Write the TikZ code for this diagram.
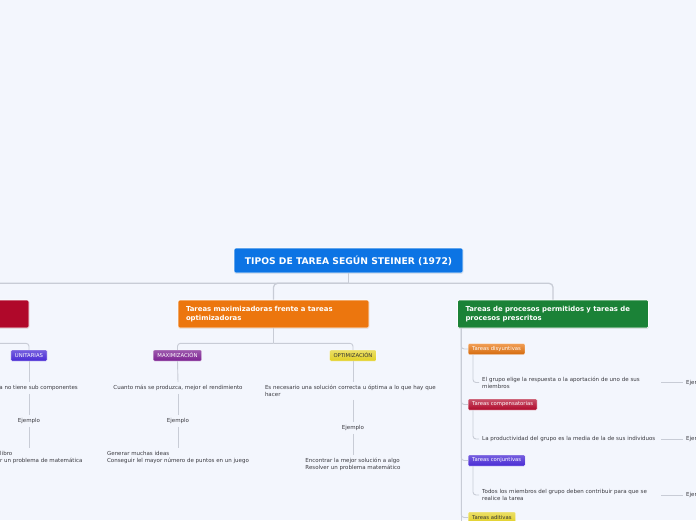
\documentclass[tikz,border=0pt]{standalone}
\usepackage{fontspec}
\setmainfont{DejaVu Sans}
\usetikzlibrary{positioning,shadows}
\hyphenpenalty=10000
\exhyphenpenalty=10000

\begin{document}
\begin{tikzpicture}[x=1pt, y=-1pt,
  every node/.style={font=\fontsize{5.5}{7}\selectfont, text=textcol},
  roottopic/.style={fill=rootcol, draw=white, line width=0.6pt, rounded corners=1.5pt, text=white,
    font=\bfseries\fontsize{9.2}{11}\selectfont, minimum width=229pt, minimum height=25pt,
    drop shadow={opacity=0.2, shadow xshift=0.4pt, shadow yshift=-0.8pt}},
  topic/.style={draw=white, line width=0.6pt, rounded corners=1.5pt, text=white,
    font=\bfseries\fontsize{6.9}{9}\selectfont, minimum width=191pt, minimum height=28pt,
    text width=175pt, align=left, inner xsep=8pt,
    drop shadow={opacity=0.2, shadow xshift=0.4pt, shadow yshift=-0.8pt}},
  tag/.style={rounded corners=1pt, text=white, font=\fontsize{5.3}{6}\selectfont,
    minimum height=11pt, inner xsep=4pt, inner ysep=0pt, draw=white, line width=0.3pt},
  desc/.style={align=left, inner sep=3pt},
  trunk/.style={draw=linecol, line width=1.3pt, rounded corners=4pt},
  twig/.style={draw=linecol, line width=0.9pt, rounded corners=3pt}]
  % Define colors
  \definecolor{bgcol}{RGB}{243,246,253}
  \definecolor{textcol}{RGB}{58,58,64}
  \definecolor{linecol}{RGB}{200,204,214}
  \definecolor{rootcol}{RGB}{12,116,228}
  \definecolor{orangecol}{RGB}{236,118,14}
  \definecolor{greencol}{RGB}{27,130,55}
  \definecolor{redcol}{RGB}{176,8,42}
  \definecolor{violetcol}{RGB}{72,42,212}
  \definecolor{purplecol}{RGB}{124,34,146}
  \definecolor{yellowcol}{RGB}{226,208,36}

  % Canvas
  \fill[bgcol] (0,0) rectangle (696,520);
  \useasboundingbox (0,0) rectangle (696,520);
  \clip (0,0) rectangle (696,520);

  % Root and main topics
  \node[roottopic] (root) at (348.5,260.5) {TIPOS DE TAREA SEGÚN STEINER (1972)};
  \node[topic, fill=redcol] (unitopic) at (-66.5,314) {};
  \node[topic, fill=orangecol] (maxopt) at (273.5,314) {Tareas maximizadoras frente a tareas\\optimizadoras};
  \node[topic, fill=greencol] (procesos) at (553,314) {Tareas de procesos permitidos y tareas de\\procesos prescritos};

  % Left branch
  \node[tag, top color=violetcol!75!white, bottom color=violetcol] (unit) at (29,355.5) {UNITARIAS};
  \node[desc, anchor=east] (unitdesc) at (81,388) {a no tiene sub componentes};
  \node[desc] (unitej) at (29,421) {Ejemplo};
  \node[desc, anchor=west] (unitex) at (-3,457.5) {libro\\r un problema de matemática};

  % Maximizacion / optimizacion
  \node[tag, top color=purplecol!75!white, bottom color=purplecol] (maxi) at (177.5,355.5) {MAXIMIZACIÓN};
  \node[desc] (maxidesc) at (178,388) {Cuanto más se produzca, mejor el rendimiento};
  \node[desc] (maxiej) at (178,421) {Ejemplo};
  \node[desc] (maxiex) at (178,457.5) {Generar muchas ideas\\Conseguir lel mayor número de puntos en un juego};

  \node[tag, top color=yellowcol!70!white, bottom color=yellowcol, text=black!80] (opti) at (353,355.5) {OPTIMIZACIÓN};
  \node[desc, text width=174pt] (optidesc) at (352,391) {Es necesario una solución correcta u óptima a lo que hay que hacer};
  \node[desc] (optiej) at (353,428) {Ejemplo};
  \node[desc] (optiex) at (353,464) {Encontrar la mejor solución a algo\\Resolver un problema matemático};

  % Procesos branch
  \node[tag, anchor=west, top color=orangecol!70!white, bottom color=orangecol!90!black] (disy) at (468,349) {Tareas disyuntivas};
  \node[desc, anchor=west, text width=176pt] (disydesc) at (479,382.5) {El grupo elige la respuesta o la aportación de uno de sus miembros};
  \node[desc, anchor=west] (disyej) at (683,382.5) {Ejemplo};

  \node[tag, anchor=west, top color=redcol!70!white, bottom color=redcol] (comp) at (468,404.5) {Tareas compensatorias};
  \node[desc, anchor=west, text width=176pt] (compdesc) at (479,439) {La productividad del grupo es la media de la de sus individuos};
  \node[desc, anchor=west] (compej) at (683,439) {Ejemplo};

  \node[tag, anchor=west, top color=violetcol!75!white, bottom color=violetcol] (conj) at (468,460.5) {Tareas conjuntivas};
  \node[desc, anchor=west, text width=176pt] (conjdesc) at (479,495) {Todos los miembros del grupo deben contribuir para que se realice la tarea};
  \node[desc, anchor=west] (conjej) at (683,495) {Ejemplo};

  \node[tag, anchor=west, top color=yellowcol!70!white, bottom color=yellowcol, text=black!80] (adit) at (468,517.5) {Tareas aditivas};

  % Connectors from root
  \draw[trunk] (root.south) -- ++(0,10) coordinate (hub);
  \draw[trunk] (hub) -| (maxopt.north);
  \draw[trunk] (hub) -| (procesos.north);
  \draw[trunk] (hub) -| (unitopic.north);

  % Left connectors
  \draw[twig] (unitopic.south) -- ++(0,15) coordinate (unithub);
  \draw[twig] (unithub) -| (unit.north);
  \draw[twig] (unit.south) -- (unit.south |- unitdesc.north);
  \draw[twig] (unit.south |- unitdesc.south) -- (unitej.north);
  \draw[twig] (unitej.south) -- (unitej.south |- unitex.north);

  % Middle connectors
  \draw[twig] (maxopt.south) -- ++(0,15) coordinate (mohub);
  \draw[twig] (mohub) -| (maxi.north);
  \draw[twig] (mohub) -| (opti.north);
  \draw[twig] (maxi.south) -- (maxidesc.north);
  \draw[twig] (maxidesc.south) -- (maxiej.north);
  \draw[twig] (maxiej.south) -- (maxiex.north);
  \draw[twig] (opti.south) -- (opti.south |- optidesc.north);
  \draw[twig] (opti.south |- optidesc.south) -- (optiej.north);
  \draw[twig] (optiej.south) -- (optiex.north);

  % Right connectors
  \coordinate (pfoot) at ([xshift=4pt]procesos.south west);
  \draw[twig] (pfoot) -- (pfoot |- 0,540);
  \foreach \t in {disy, comp, conj, adit}
    \draw[twig] (pfoot) |- (\t.west);
  \foreach \t in {disy, comp, conj} {
    \draw[twig] ([xshift=5pt]\t.south west) |- (\t desc.west);
    \draw[twig, line width=0.7pt] (\t desc.east) -- (\t ej.west);
  }
\end{tikzpicture}
\end{document}
